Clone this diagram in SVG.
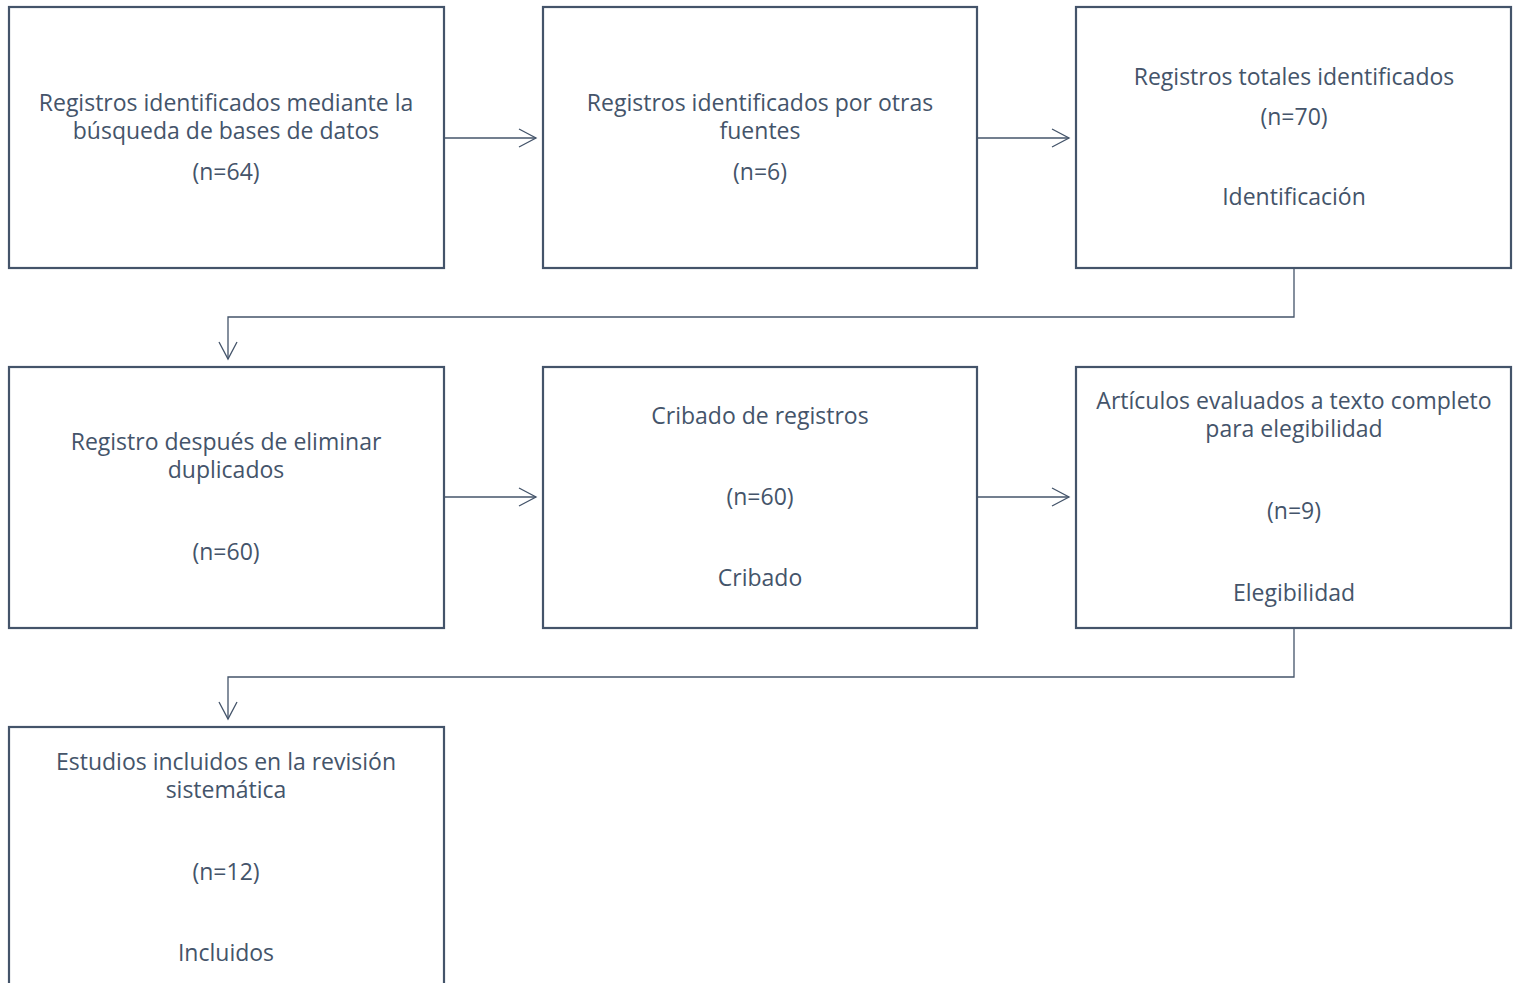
<svg xmlns="http://www.w3.org/2000/svg" width="1517" height="983" viewBox="0 0 1517 983">
<style>
.box{fill:#fff;stroke:#44546a;stroke-width:2.2}
.t{font-family:"Open Sans","Liberation Sans",sans-serif;font-size:23px;fill:#44546a;text-anchor:middle}
.c{fill:none;stroke:#44546a;stroke-width:1.3}
</style>
<defs>
<marker id="ah" viewBox="0 0 20 20" refX="18" refY="10" markerWidth="20" markerHeight="20" markerUnits="userSpaceOnUse" orient="auto">
<path d="M1,1 L18,10 L1,19" fill="none" stroke="#44546a" stroke-width="1.3"/>
</marker>
</defs>
<rect width="1517" height="983" fill="#fff"/>
<g id="n1"><rect class="box" x="9" y="7" width="435" height="261"/>
<text class="t" x="226" y="111">Registros identificados mediante la</text>
<text class="t" x="226" y="139">búsqueda de bases de datos</text>
<text class="t" x="226" y="180">(n=64)</text></g>
<g id="n2"><rect class="box" x="543" y="7" width="434" height="261"/>
<text class="t" x="760" y="111">Registros identificados por otras</text>
<text class="t" x="760" y="139">fuentes</text>
<text class="t" x="760" y="180">(n=6)</text></g>
<g id="n3"><rect class="box" x="1076" y="7" width="435" height="261"/>
<text class="t" x="1294" y="85">Registros totales identificados</text>
<text class="t" x="1294" y="125">(n=70)</text>
<text class="t" x="1294" y="205">Identificación</text></g>
<g id="n4"><rect class="box" x="9" y="367" width="435" height="261"/>
<text class="t" x="226" y="450">Registro después de eliminar</text>
<text class="t" x="226" y="478">duplicados</text>
<text class="t" x="226" y="560">(n=60)</text></g>
<g id="n5"><rect class="box" x="543" y="367" width="434" height="261"/>
<text class="t" x="760" y="424">Cribado de registros</text>
<text class="t" x="760" y="505">(n=60)</text>
<text class="t" x="760" y="586">Cribado</text></g>
<g id="n6"><rect class="box" x="1076" y="367" width="435" height="261"/>
<text class="t" x="1294" y="409">Artículos evaluados a texto completo</text>
<text class="t" x="1294" y="437">para elegibilidad</text>
<text class="t" x="1294" y="519">(n=9)</text>
<text class="t" x="1294" y="601">Elegibilidad</text></g>
<g id="n7"><rect class="box" x="9" y="727" width="435" height="280"/>
<text class="t" x="226" y="770">Estudios incluidos en la revisión</text>
<text class="t" x="226" y="798">sistemática</text>
<text class="t" x="226" y="880">(n=12)</text>
<text class="t" x="226" y="961">Incluidos</text></g>
<g id="connectors">
<path class="c" d="M444,138 H536" marker-end="url(#ah)"/>
<path class="c" d="M977,138 H1069" marker-end="url(#ah)"/>
<path class="c" d="M444,497 H536" marker-end="url(#ah)"/>
<path class="c" d="M977,497 H1069" marker-end="url(#ah)"/>
<path class="c" d="M1294,268 V317 H228 V359" marker-end="url(#ah)"/>
<path class="c" d="M1294,628 V677 H228 V719" marker-end="url(#ah)"/>
</g>
</svg>
